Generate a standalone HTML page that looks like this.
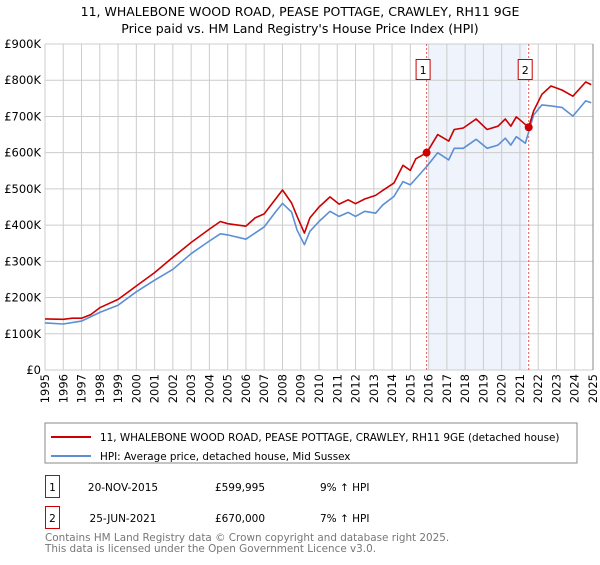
<!DOCTYPE html>
<html><head><meta charset="utf-8"><style>
body{margin:0;background:#fff;font-family:"Liberation Sans","DejaVu Sans",sans-serif;}
svg text{font-family:"DejaVu Sans","Liberation Sans",sans-serif;}
</style></head><body>
<svg id="c" width="600" height="560" xmlns="http://www.w3.org/2000/svg">
<text x="300" y="16" text-anchor="middle" font-size="12.5">11, WHALEBONE WOOD ROAD, PEASE POTTAGE, CRAWLEY, RH11 9GE</text>
<text x="300" y="33" text-anchor="middle" font-size="12.5">Price paid vs. HM Land Registry's House Price Index (HPI)</text>
<g id="plot"></g>
<rect x="45" y="423" width="532" height="40" fill="#fff" stroke="#888"/>
<line x1="51" y1="437" x2="91" y2="437" stroke="#cc0000" stroke-width="2"/>
<text x="100" y="441" font-size="10.4">11, WHALEBONE WOOD ROAD, PEASE POTTAGE, CRAWLEY, RH11 9GE (detached house)</text>
<line x1="51" y1="456" x2="91" y2="456" stroke="#5b8fd4" stroke-width="2"/>
<text x="100" y="460" font-size="10.4">HPI: Average price, detached house, Mid Sussex</text>
<rect x="45.5" y="475.5" width="14" height="22" fill="#fff" stroke="#cc0000"/>
<text x="52.5" y="491" text-anchor="middle" font-size="10.5">1</text>
<text x="123" y="491" text-anchor="middle" font-size="10.5">20-NOV-2015</text>
<text x="240" y="491" text-anchor="middle" font-size="10.5">£599,995</text>
<text x="320" y="491" font-size="10.5">9% ↑ HPI</text>
<rect x="45.5" y="506.5" width="14" height="22" fill="#fff" stroke="#cc0000"/>
<text x="52.5" y="522" text-anchor="middle" font-size="10.5">2</text>
<text x="123" y="522" text-anchor="middle" font-size="10.5">25-JUN-2021</text>
<text x="240" y="522" text-anchor="middle" font-size="10.5">£670,000</text>
<text x="320" y="522" font-size="10.5">7% ↑ HPI</text>
<text x="45" y="541" font-size="10.4" fill="#777">Contains HM Land Registry data © Crown copyright and database right 2025.</text>
<text x="45" y="552" font-size="10.4" fill="#777">This data is licensed under the Open Government Licence v3.0.</text>
</svg>
<script>
const yTicks=[0,100,200,300,400,500,600,700,800,900];
const yTickLabels=["£0","£100K","£200K","£300K","£400K","£500K","£600K","£700K","£800K","£900K"];
const xYears=[1995,1996,1997,1998,1999,2000,2001,2002,2003,2004,2005,2006,2007,2008,2009,2010,2011,2012,2013,2014,2015,2016,2017,2018,2019,2020,2021,2022,2023,2024,2025];
const redT=[1995,1996,1996.5,1997,1997.5,1998,1999,2000,2001,2002,2003,2004,2004.6,2005,2006,2006.5,2007,2008,2008.5,2008.8,2009.2,2009.5,2010,2010.6,2011.1,2011.6,2012,2012.5,2013.1,2013.5,2014.1,2014.6,2015,2015.3,2015.9,2016.5,2017.1,2017.4,2017.9,2018.6,2019.2,2019.8,2020.2,2020.5,2020.8,2021.48,2021.75,2022.2,2022.7,2023.3,2023.9,2024.6,2024.9];
const redV=[141,140,143,143,153,172,195,232,269,311,352,389,410,404,397,420,431,497,461,424,378,420,450,478,458,470,459,472,482,496,516,565,551,583,600,650,632,664,668,693,664,673,693,673,699,670,715,761,784,773,756,795,788];
const blueT=[1995,1996,1997,1998,1999,2000,2001,2002,2003,2004,2004.6,2005,2006,2007,2007.6,2008,2008.5,2008.8,2009.2,2009.5,2010,2010.6,2011.1,2011.6,2012,2012.5,2013.1,2013.5,2014.1,2014.6,2015,2015.9,2016.5,2017.1,2017.4,2017.9,2018.6,2019.2,2019.8,2020.2,2020.5,2020.8,2021.3,2021.75,2022.2,2022.7,2023.3,2023.9,2024.6,2024.9];
const blueV=[130,127,135,159,179,216,248,278,321,356,376,373,361,395,435,460,436,386,346,383,410,438,424,435,424,438,433,456,479,520,511,562,600,580,612,612,637,612,621,640,621,644,626,704,732,729,725,701,743,738];
const saleT=[2015.89,2021.48];
const saleV=[600,670];
const saleLabels=["1","2"];
const L=45,R=593,T=44,B=370;
const X=t=>L+(t-1995)*(R-L)/30;
const Y=v=>B-v*(B-T)/900;
const NS="http://www.w3.org/2000/svg";
const g=document.getElementById('plot');
function mk(tag,attrs){const e=document.createElementNS(NS,tag);for(const k in attrs)e.setAttribute(k,attrs[k]);g.appendChild(e);return e;}
let e=mk('rect',{x:X(saleT[0])+2,y:T,width:X(saleT[1])-X(saleT[0])-4,height:B-T,fill:'#eef3fc'});


yTicks.forEach((v,i)=>{
 let l=mk('line',{x1:L,x2:R,y1:Y(v),y2:Y(v),stroke:'#ccc'});
 
 
 let t=mk('text',{x:L-4,y:Y(v)+4,'text-anchor':'end','font-size':'11.5'});
 t.textContent=yTickLabels[i];
 
 
});
xYears.forEach(yr=>{
 let l=mk('line',{x1:X(yr),x2:X(yr),y1:T,y2:B,stroke:'#ccc'});
 
 
 let t=mk('text',{x:0,y:0,'text-anchor':'end','font-size':'11.5',transform:`translate(${X(yr)+4},${B+4}) rotate(-90)`});
 t.textContent=yr;
 
 
});
let ax=mk('line',{x1:R,x2:R,y1:T,y2:B,stroke:'#888'});


saleT.forEach((t,i)=>{
 let l=mk('line',{x1:X(t),x2:X(t),y1:T,y2:B,stroke:'#e55','stroke-dasharray':'2,2'});
 
 
 let r=mk('rect',{x:X(t)-10.5,y:59.5,width:14,height:20,fill:'#fff',stroke:'#cc0000'});
 
 
 let tx=mk('text',{x:X(t)-3.5,y:74,'text-anchor':'middle','font-size':'11'});
 tx.textContent=saleLabels[i];
 
 
});
function path(ts,vs,col,name){
 let d=ts.map((t,i)=>(i?'L':'M')+X(t).toFixed(1)+','+Y(vs[i]).toFixed(1)).join('');
 let p=mk('path',{d:d,fill:'none',stroke:col,'stroke-width':1.6,'stroke-linejoin':'round'});
 
 
}
path(blueT,blueV,'#5b8fd4','hpi-line');
path(redT,redV,'#cc0000','property-price-line');
saleT.forEach((t,i)=>{
 let c=mk('circle',{cx:X(t),cy:Y(saleV[i]),r:4,fill:'#cc0000'});
 
 
});
</script>
</body></html>
